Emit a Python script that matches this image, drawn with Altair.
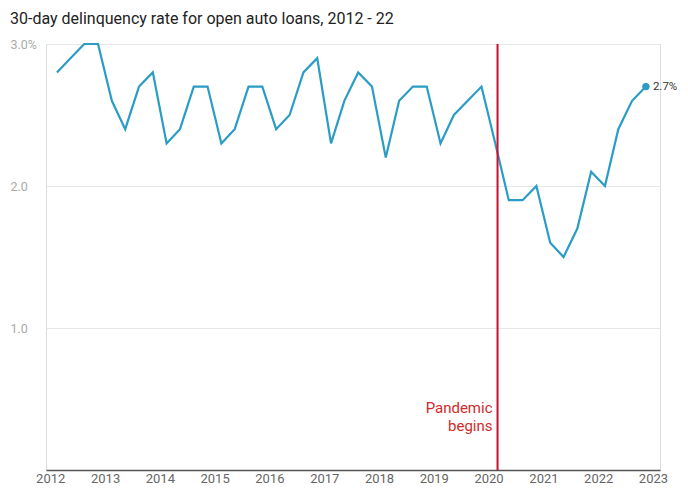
import altair as alt
import pandas as pd

# Quarterly 30-day delinquency rate (%), Q1 2012 - Q4 2022
quarters = [
    "2012-02-15", "2012-05-15", "2012-08-15", "2012-11-15",
    "2013-02-15", "2013-05-15", "2013-08-15", "2013-11-15",
    "2014-02-15", "2014-05-15", "2014-08-15", "2014-11-15",
    "2015-02-15", "2015-05-15", "2015-08-15", "2015-11-15",
    "2016-02-15", "2016-05-15", "2016-08-15", "2016-11-15",
    "2017-02-15", "2017-05-15", "2017-08-15", "2017-11-15",
    "2018-02-15", "2018-05-15", "2018-08-15", "2018-11-15",
    "2019-02-15", "2019-05-15", "2019-08-15", "2019-11-15",
    "2020-02-15", "2020-05-15", "2020-08-15", "2020-11-15",
    "2021-02-15", "2021-05-15", "2021-08-15", "2021-11-15",
    "2022-02-15", "2022-05-15", "2022-08-15", "2022-11-15",
]
rates = [
    2.8, 2.9, 3.0, 3.0,
    2.6, 2.4, 2.7, 2.8,
    2.3, 2.4, 2.7, 2.7,
    2.3, 2.4, 2.7, 2.7,
    2.4, 2.5, 2.8, 2.9,
    2.3, 2.6, 2.8, 2.7,
    2.2, 2.6, 2.7, 2.7,
    2.3, 2.5, 2.6, 2.7,
    2.3, 1.9, 1.9, 2.0,
    1.6, 1.5, 1.7, 2.1,
    2.0, 2.4, 2.6, 2.7,
]
y_ticks = [1.0, 2.0, 3.0]
pandemic_date = ["2020-03-01"]
pandemic_label = ["Pandemic", "begins"]
pandemic_label_y = [0.4]

df = pd.DataFrame({"date": quarters, "rate": rates})
last = df.tail(1).copy()
last["label"] = [f"{v:.1f}%" for v in last["rate"]]
pan = pd.DataFrame({"date": pandemic_date, "y": pandemic_label_y,
                    "label": [pandemic_label]})

LINE = "#2b9cc6"
RED = "#c8102e"
FONT = "Roboto"

x_scale = alt.Scale(domain=[alt.DateTime(year=2011, month=12, date=4),
                            alt.DateTime(year=2023, month=2, date=17)])
y_scale = alt.Scale(domain=[0, 3], nice=False)

x_enc = alt.X("date:T", scale=x_scale, title=None,
              axis=alt.Axis(format="%Y", tickCount=alt.TimeIntervalStep(interval="year", step=1),
                            grid=False, ticks=False, domain=True, domainColor="#555",
                            domainWidth=1.5, labelColor="#666", labelFontSize=13,
                            labelPadding=2, labelFont=FONT, labelFlush=False))
y_enc = alt.Y("rate:Q", scale=y_scale, title=None,
              axis=alt.Axis(values=y_ticks, grid=True, gridColor="#e6e6e6",
                            domain=False, ticks=False, tickSize=0,
                            labelAlign="left", labelPadding=36, labelColor="#aaa",
                            labelFontSize=12.5, labelFont=FONT,
                            labelExpr="datum.value == 3 ? format(datum.value, '.1f') + '%' : format(datum.value, '.1f')"))

line = alt.Chart(df).mark_line(color=LINE, strokeWidth=2.2).encode(x=x_enc, y=y_enc)

dot = alt.Chart(last).mark_circle(color=LINE, size=55, opacity=1).encode(
    x="date:T", y="rate:Q")
dot_label = alt.Chart(last).mark_text(align="left", dx=7, fontSize=11.5, color="#333",
                                      font=FONT, baseline="middle").encode(
    x="date:T", y="rate:Q", text="label:N")

rule = alt.Chart(pan).mark_rule(color=RED, strokeWidth=2).encode(
    x="date:T", y=alt.datum(0), y2=alt.datum(3))
rule_text = alt.Chart(pan).mark_text(align="right", dx=-5, baseline="alphabetic",
                                     fontSize=15, color="#d42a2a", font=FONT,
                                     lineHeight=18).encode(
    x="date:T", y="y:Q", text="label")

chart = alt.layer(line, rule, dot, dot_label, rule_text).properties(
    width=614, height=426,
    title=alt.TitleParams("30-day delinquency rate for open auto loans, 2012 - 22",
                          anchor="start", frame="bounds", fontSize=16,
                          fontWeight="normal", color="#222", font=FONT, offset=11),
    padding={"left": 2, "top": 3, "right": 0, "bottom": 0},
).configure_view(stroke=None).configure(background="white")

chart.save("out.html", embed_options={"renderer": "svg", "actions": False})
